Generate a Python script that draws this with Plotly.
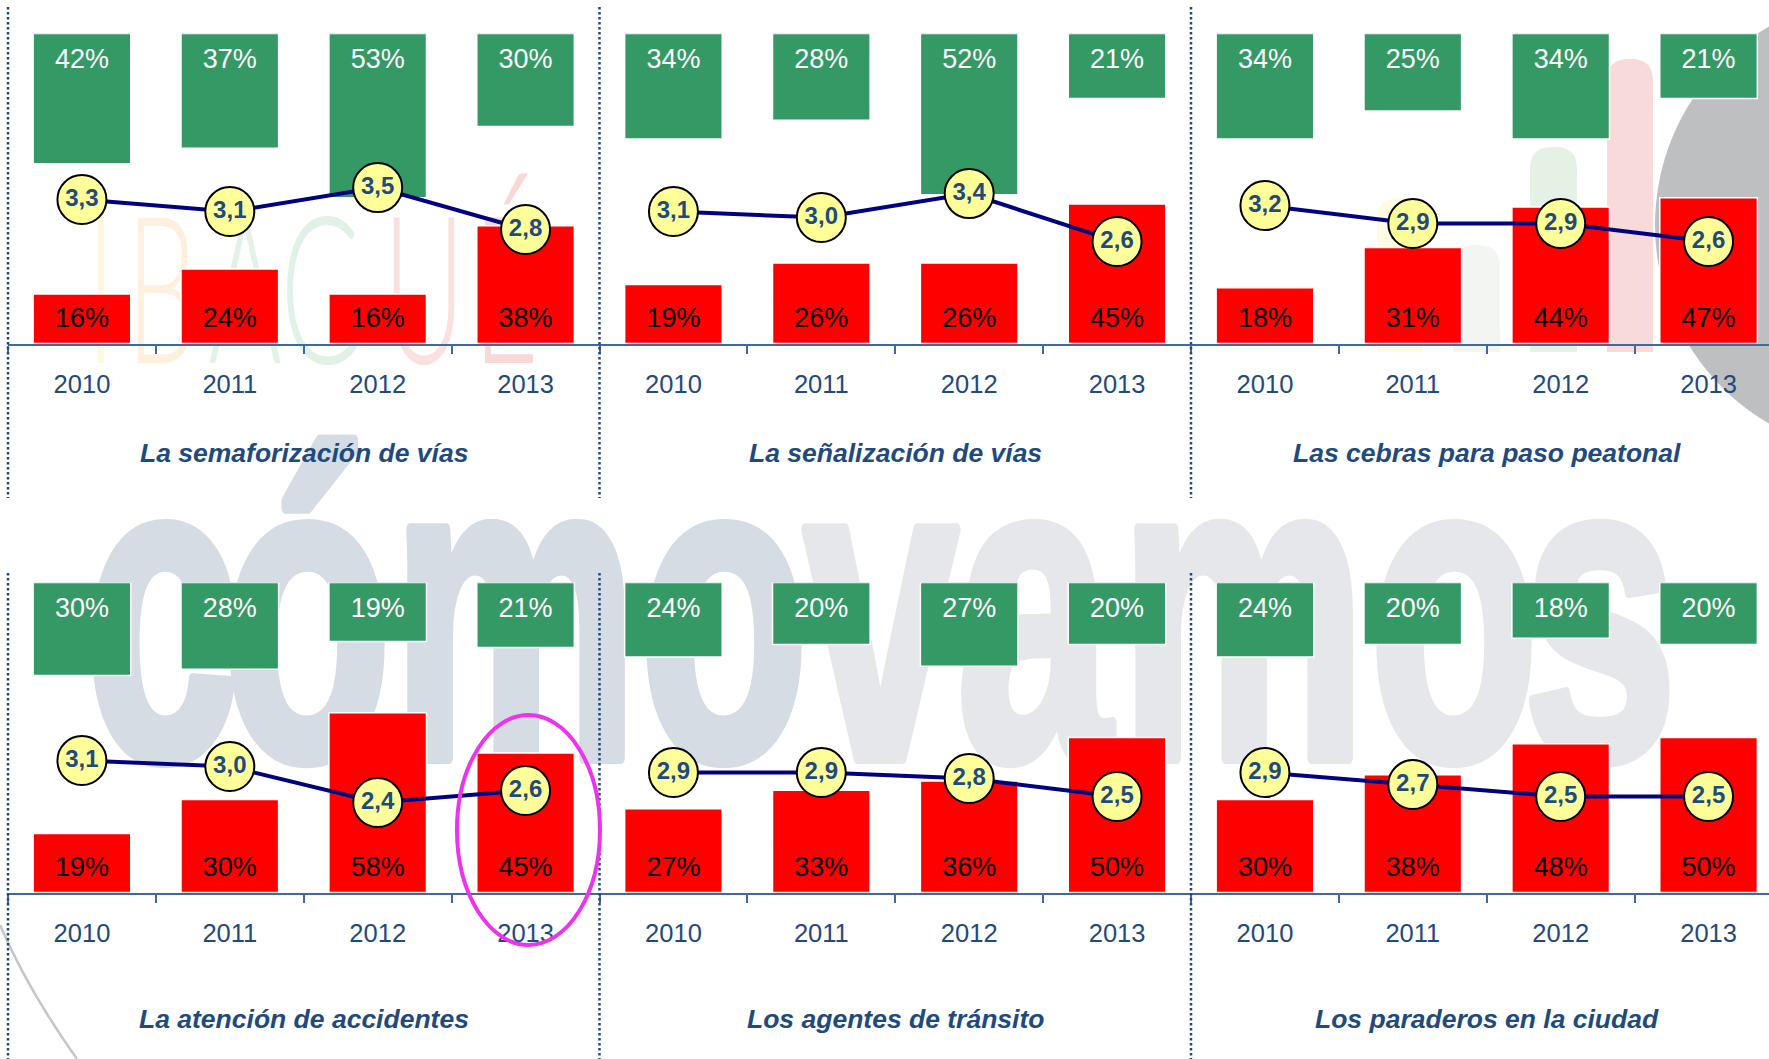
import plotly.graph_objects as go

# ---------------------------------------------------------------- data
years = ["2010", "2011", "2012", "2013"]

titles = [
    "La semaforización de vías",
    "La señalización de vías",
    "Las cebras para paso peatonal",
    "La atención de accidentes",
    "Los agentes de tránsito",
    "Los paraderos en la ciudad",
]

# share of positive ratings (green, hanging from the top)
good_semaforizacion = [42, 37, 53, 30]
good_senalizacion = [34, 28, 52, 21]
good_cebras = [34, 25, 34, 21]
good_accidentes = [30, 28, 19, 21]
good_agentes = [24, 20, 27, 20]
good_paraderos = [24, 20, 18, 20]

# share of negative ratings (red, rising from the axis)
bad_semaforizacion = [16, 24, 16, 38]
bad_senalizacion = [19, 26, 26, 45]
bad_cebras = [18, 31, 44, 47]
bad_accidentes = [19, 30, 58, 45]
bad_agentes = [27, 33, 36, 50]
bad_paraderos = [30, 38, 48, 50]

# average score (1-5 scale)
avg_semaforizacion = [3.3, 3.1, 3.5, 2.8]
avg_senalizacion = [3.1, 3.0, 3.4, 2.6]
avg_cebras = [3.2, 2.9, 2.9, 2.6]
avg_accidentes = [3.1, 3.0, 2.4, 2.6]
avg_agentes = [2.9, 2.9, 2.8, 2.5]
avg_paraderos = [2.9, 2.7, 2.5, 2.5]

good = [good_semaforizacion, good_senalizacion, good_cebras,
        good_accidentes, good_agentes, good_paraderos]
bad = [bad_semaforizacion, bad_senalizacion, bad_cebras,
       bad_accidentes, bad_agentes, bad_paraderos]
avg = [avg_semaforizacion, avg_senalizacion, avg_cebras,
       avg_accidentes, avg_agentes, avg_paraderos]

# background lettering
wm_letters = list("cómovamos")
brand_letters = list("IBAGUÉ")

# ---------------------------------------------------------------- layout constants
W, H = 1769, 1059
COL_X = [8.0, 599.5, 1191.0]             # left edge of each panel (px)
COL_W = 591.5                            # nominal panel width (px)
ROW_Y = [(33.5, 343.5), (582.5, 892.5)]  # top / baseline of each row (px)

GREEN = "#359966"
RED = "#FF0000"
NAVY = "#000080"
TXT_BLUE = "#1F4A7D"
AXIS_BLUE = "#41699E"
FONT = "Liberation Sans, Arial, sans-serif"
WM_SIZE = 433
BRAND_SIZE = 205

fig = go.Figure()
layout = dict(
    width=W, height=H,
    margin=dict(l=0, r=0, t=0, b=0),
    paper_bgcolor="white", plot_bgcolor="rgba(0,0,0,0)",
    showlegend=False,
    xaxis=dict(domain=[0, 1], range=[0, W], visible=False, fixedrange=True),
    yaxis=dict(domain=[0, 1], range=[H, 0], visible=False, fixedrange=True),
)

# full-page pixel axis (x/y) used for the background lettering
wm_x = [162, 307, 515, 724, 881, 1034, 1243, 1454, 1600]
wm_col = ["#D5DCE4"] * 4 + ["#E5E7EB"] * 5
fig.add_trace(go.Scatter(
    x=wm_x, y=[745 - 0.22 * WM_SIZE] * len(wm_letters), mode="text", text=wm_letters,
    textfont=dict(family=FONT, size=WM_SIZE, color=wm_col, weight="bold"),
    xaxis="x", yaxis="y", hoverinfo="skip", cliponaxis=False,
))
br_x = [101, 162, 245, 322, 424, 506]
br_col = ["#FFF7DE", "#FEF0DD", "#E2F2E6", "#E0F1E5", "#FBE0E0", "#F9D8D8"]
fig.add_trace(go.Scatter(
    x=br_x, y=[357 - 0.22 * BRAND_SIZE] * len(brand_letters), mode="text", text=brand_letters,
    textfont=dict(family="Lato, Liberation Sans, sans-serif", size=BRAND_SIZE,
                  color=br_col, weight=300),
    xaxis="x", yaxis="y", hoverinfo="skip", cliponaxis=False,
))

shapes = []
# grey disc on the right edge
shapes.append(dict(type="circle", xref="x", yref="y", x0=1655, x1=2115, y0=-5, y1=455,
                   fillcolor="#BEBFC1", line=dict(width=0), layer="below"))


def rounded_bar(x0, x1, yt, yb, r):
    return (f"M {x0},{yb} L {x0},{yt + r} Q {x0},{yt} {x0 + r},{yt} "
            f"L {x1 - r},{yt} Q {x1},{yt} {x1},{yt + r} L {x1},{yb} Z")


for (x0, x1, yt, col) in [(1377, 1423, 198, "#FDFBE4"), (1453, 1500, 245, "#F3F5F2"),
                          (1530, 1577, 147, "#E6F1E5"), (1607, 1653, 59, "#F9DADB")]:
    shapes.append(dict(type="path", xref="x", yref="y", path=rounded_bar(x0, x1, yt, 352, 22),
                       fillcolor=col, line=dict(width=0), layer="below"))

# thin grey arc, lower left
shapes.append(dict(type="path", xref="x", yref="y", path="M 0,925 Q 28,990 77,1059",
                   line=dict(color="#C6C6C6", width=2.5), layer="below"))

# ---------------------------------------------------------------- panels
annotations = []
for i in range(6):
    row, col = divmod(i, 3)
    xa = f"x{i + 2}"
    ya = f"y{i + 2}"
    ya2 = f"y{i + 8}"
    left = COL_X[col]
    right = min(left + COL_W, W)
    top, base = ROW_Y[row]
    span = (right - left) / (COL_W / 4)

    layout[f"xaxis{i + 2}"] = dict(
        domain=[left / W, right / W], anchor=ya,
        type="category", categoryorder="array", categoryarray=years,
        range=[-0.5, -0.5 + span],
        showline=True, linecolor=AXIS_BLUE, linewidth=2,
        ticks="outside", tickson="boundaries", ticklen=8, tickwidth=2, tickcolor=AXIS_BLUE,
        tickfont=dict(family=FONT, size=25.5, color=TXT_BLUE),
        ticklabelstandoff=17,
        showgrid=False, zeroline=False, fixedrange=True,
    )
    layout[f"yaxis{i + 2}"] = dict(
        domain=[1 - base / H, 1 - top / H], anchor=xa, range=[0, 100],
        visible=False, fixedrange=True,
    )
    layout[f"yaxis{i + 8}"] = dict(
        overlaying=ya, anchor=xa, range=[0.9, 6.07], visible=False, fixedrange=True,
    )

    # positive share hangs down from the top
    fig.add_trace(go.Bar(
        x=years, y=[-v for v in good[i]], base=[100] * 4, width=0.66,
        marker=dict(color=GREEN, line=dict(color="white", width=1.5)),
        xaxis=xa, yaxis=ya, hoverinfo="skip",
    ))
    # negative share rises from the axis
    fig.add_trace(go.Bar(
        x=years, y=bad[i], width=0.66,
        marker=dict(color=RED, line=dict(color="white", width=1.5)),
        xaxis=xa, yaxis=ya, hoverinfo="skip",
    ))
    fig.add_trace(go.Scatter(
        x=years, y=[91.1] * 4, mode="text", text=[f"{v}%" for v in good[i]],
        textfont=dict(family=FONT, size=27, color="white"),
        xaxis=xa, yaxis=ya, hoverinfo="skip", cliponaxis=False,
    ))
    fig.add_trace(go.Scatter(
        x=years, y=[7.6] * 4, mode="text", text=[f"{v}%" for v in bad[i]],
        textfont=dict(family=FONT, size=27, color="black"),
        xaxis=xa, yaxis=ya, hoverinfo="skip", cliponaxis=False,
    ))
    # average score line with labelled circles
    fig.add_trace(go.Scatter(
        x=years, y=avg[i], mode="lines+markers+text",
        text=[f"{v:.1f}".replace(".", ",") for v in avg[i]], textposition="middle center",
        textfont=dict(family=FONT, size=24, color=TXT_BLUE, weight="bold"),
        line=dict(color=NAVY, width=4),
        marker=dict(size=49, color="#FFFF99", line=dict(color="black", width=2)),
        xaxis=xa, yaxis=ya2, hoverinfo="skip", cliponaxis=False,
    ))

    annotations.append(dict(
        text=f"<b><i>{titles[i]}</i></b>", xref="paper", yref="paper",
        x=(left + COL_W / 2) / W, y=1 - (453 if row == 0 else 1019) / H,
        xanchor="center", yanchor="middle", showarrow=False,
        font=dict(family=FONT, size=26.5, color=TXT_BLUE),
    ))

# dotted separators between panels
for x in COL_X:
    for (y0, y1) in [(7, 498), (573, 1059)]:
        shapes.append(dict(type="line", xref="x", yref="y", x0=x, x1=x, y0=y0, y1=y1,
                           line=dict(color=TXT_BLUE, width=2.5, dash="2.5px,2.5px"),
                           layer="above"))

# highlight ring around the latest value of the accident panel
shapes.append(dict(type="circle", xref="x", yref="y", x0=457, x1=600, y0=715, y1=945,
                   line=dict(color="#EE33EE", width=4), layer="above"))

layout["shapes"] = shapes
layout["annotations"] = annotations
layout["barmode"] = "overlay"
fig.update_layout(**layout)

# The background lettering is set in a heavy condensed cut: squeeze each glyph
# horizontally about its own centre (and thicken the big word) once drawn.
squeeze_js = """
var gd = document.getElementById('{plot_id}');
var widths = {'%dpx': [0.64, 12], '%dpx': [0.55, 0]};
function squeezeLetters() {
  var nodes = gd.querySelectorAll('g.textpoint text');
  nodes.forEach(function (el) {
    var cfg = widths[el.style.fontSize];
    if (!cfg) { return; }
    var cx = parseFloat(el.getAttribute('x'));
    el.setAttribute('transform',
      'translate(' + cx + ',0) scale(' + cfg[0] + ',1) translate(' + (-cx) + ',0)');
    if (cfg[1] > 0) {
      el.style.stroke = el.style.fill;
      el.style.strokeWidth = cfg[1] + 'px';
      el.style.strokeLinejoin = 'round';
    }
  });
}
squeezeLetters();
setTimeout(squeezeLetters, 200);
gd.on('plotly_afterplot', squeezeLetters);
""" % (WM_SIZE, BRAND_SIZE)

fig.write_html("out.html", post_script=squeeze_js)
